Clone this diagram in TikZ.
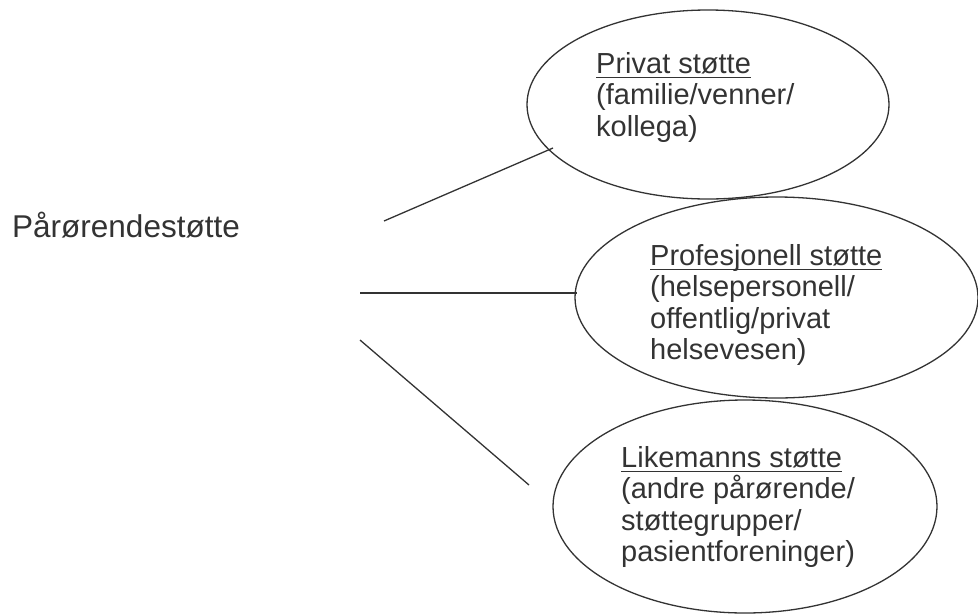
\documentclass[tikz,border=0pt]{standalone}
\usepackage{fontspec}
\setmainfont{Liberation Sans}
\usetikzlibrary{shapes.geometric}
\definecolor{ink}{HTML}{333333}
\newsavebox\ulxbox
\newcommand{\ulx}[1]{\sbox\ulxbox{#1}\rlap{\rule[-5pt]{\wd\ulxbox}{1.7pt}}\usebox\ulxbox}
\begin{document}
\begin{tikzpicture}[x=1pt,y=-1pt,
  bubble/.style={draw=ink, line width=1.3pt, ellipse, inner sep=0pt, outer sep=0pt},
  link/.style={draw=ink, line width=1.3pt},
  bubtext/.style={text=ink, align=left, anchor=north west, inner sep=0pt, font=\fontsize{29}{31.5}\selectfont},
  ]
\useasboundingbox (0,0) rectangle (978,614);
% ellipses
\node[bubble, minimum width=362pt, minimum height=189pt] (e1) at (708,104.5) {};
\node[bubble, minimum width=403pt, minimum height=201pt] (e2) at (776.5,297.5) {};
\node[bubble, minimum width=384pt, minimum height=213pt] (e3) at (745,506.5) {};
% texts
\node[bubtext] (t1txt) at (596,52.2) {\ulx{Privat støtte}\\(familie/venner/\\kollega)};
\node[bubtext] (t2txt) at (650,244) {\ulx{Profesjonell støtte}\\(helsepersonell/\\offentlig/privat\\helsevesen)};
\node[bubtext] (t3txt) at (621,446) {\ulx{Likemanns støtte}\\(andre pårørende/\\støttegrupper/\\pasientforeninger)};
\node[anchor=base east, text=ink, inner sep=0pt, font=\fontsize{31.5}{36}\selectfont] (lbl) at (240,237) {Pårørendestøtte};
% connectors
\coordinate (s1) at (384,221); \coordinate (c1) at (553,148);
\coordinate (s2) at (360,293); \coordinate (c2) at (577,293);
\coordinate (s3) at (360,340); \coordinate (c3) at (529,485);
\draw[link] (s1) -- (c1);
\draw[link] (s2) -- (c2);
\draw[link] (s3) -- (c3);
\end{tikzpicture}
\end{document}
